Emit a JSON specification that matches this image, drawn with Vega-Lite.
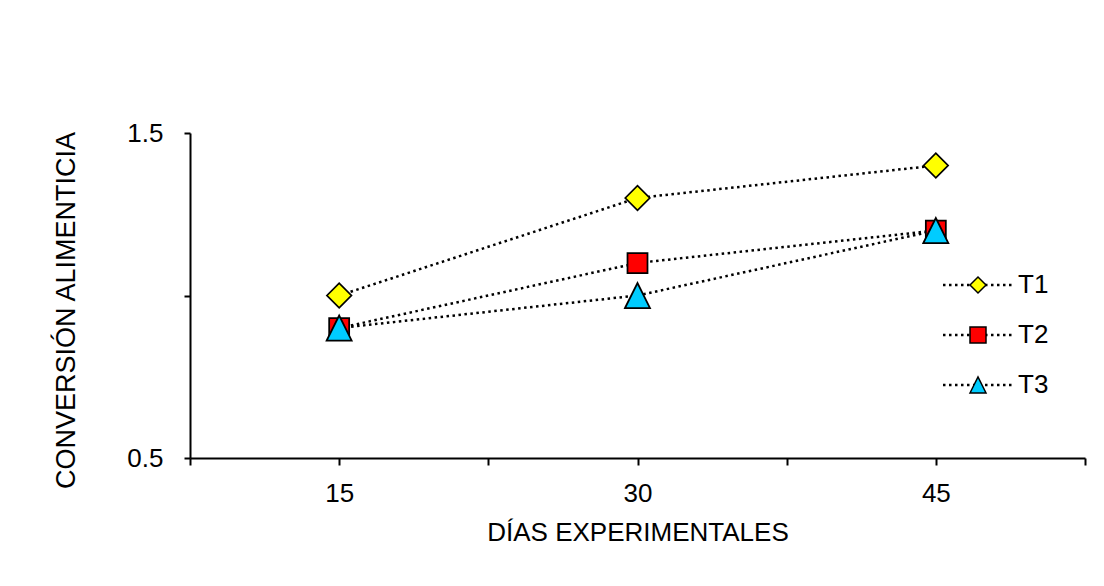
{
  "$schema": "https://vega.github.io/schema/vega-lite/v6.json",
  "width": 895,
  "height": 325,
  "autosize": {"type": "none"},
  "padding": {"left": 190, "top": 133, "right": 19, "bottom": 128},
  "background": "white",
  "config": {
    "font": "Liberation Sans",
    "view": {"stroke": null},
    "axis": {
      "domainColor": "#000000",
      "domainWidth": 2,
      "tickColor": "#000000",
      "tickWidth": 2,
      "labelColor": "#000000",
      "titleColor": "#000000",
      "labelFont": "Liberation Sans",
      "titleFont": "Liberation Sans",
      "labelFontSize": 26,
      "titleFontSize": 26,
      "titleFontWeight": "normal",
      "grid": false,
      "labelFlush": false,
      "labelOverlap": false,
      "labelBound": false
    },
    "legend": {
      "labelFont": "Liberation Sans",
      "labelFontSize": 26,
      "labelColor": "#000000",
      "padding": 0
    }
  },
  "data": {
    "values": [
      {"dias": 15, "conversion": 1.0, "tratamiento": "T1"},
      {"dias": 30, "conversion": 1.3, "tratamiento": "T1"},
      {"dias": 45, "conversion": 1.4, "tratamiento": "T1"},
      {"dias": 15, "conversion": 0.9, "tratamiento": "T2"},
      {"dias": 30, "conversion": 1.1, "tratamiento": "T2"},
      {"dias": 45, "conversion": 1.2, "tratamiento": "T2"},
      {"dias": 15, "conversion": 0.9, "tratamiento": "T3"},
      {"dias": 30, "conversion": 1.0, "tratamiento": "T3"},
      {"dias": 45, "conversion": 1.2, "tratamiento": "T3"}
    ]
  },
  "encoding": {
    "x": {
      "field": "dias",
      "type": "quantitative",
      "scale": {"domain": [7.5, 52.5], "nice": false, "zero": false},
      "axis": {
        "title": "DÍAS EXPERIMENTALES",
        "values": [7.5, 15, 22.5, 30, 37.5, 45, 52.5],
        "labelExpr": "datum.value % 15 === 0 ? datum.label : ''",
        "tickSize": 7,
        "labelPadding": 15,
        "titlePadding": 13
      }
    },
    "y": {
      "field": "conversion",
      "type": "quantitative",
      "scale": {"domain": [0.5, 1.5], "nice": false, "zero": false},
      "axis": {
        "title": "CONVERSIÓN ALIMENTICIA",
        "titleFontSize": 27,
        "values": [0.5, 1, 1.5],
        "format": ".1f",
        "labelExpr": "datum.value === 1 ? '' : datum.label",
        "tickSize": 6,
        "labelPadding": 21,
        "titleAngle": -90,
        "titleAlign": "center",
        "titleBaseline": "middle",
        "titleX": -124,
        "titleY": 177
      }
    }
  },
  "layer": [
    {
      "mark": {"type": "line", "strokeDash": [2.5, 3.5], "strokeWidth": 2.5, "strokeCap": "butt"},
      "encoding": {
        "stroke": {
          "field": "tratamiento",
          "type": "nominal",
          "scale": {"domain": ["T1", "T2", "T3"], "range": ["#000000", "#000000", "#000000"]},
          "legend": {
            "orient": "none",
            "legendX": 775,
            "legendY": 139,
            "title": null,
            "symbolType": "M-4.375,0H4.375",
            "symbolSize": 256,
            "symbolDash": [2.5, 3.5],
            "symbolStrokeWidth": 2.5,
            "symbolStrokeColor": "#000000",
            "labelOffset": 27,
            "labelOpacity": 0,
            "rowPadding": 24
          }
        }
      }
    },
    {
      "mark": {"type": "point", "filled": true, "opacity": 1, "stroke": "#000000", "strokeWidth": 1.75},
      "encoding": {
        "fill": {
          "field": "tratamiento",
          "type": "nominal",
          "scale": {"range": ["#FFFF00", "#FF0000", "#00CCFF"]},
          "legend": {
            "orient": "none",
            "legendX": 775,
            "legendY": 139,
            "title": null,
            "symbolSize": 256,
            "symbolStrokeColor": "#000000",
            "symbolStrokeWidth": 1.5,
            "symbolOpacity": 1,
            "labelOffset": 27,
            "rowPadding": 24,
            "encode": {
              "symbols": {
                "update": {
                  "stroke": {"value": "#000000"},
                  "strokeWidth": {"value": 1.5}
                }
              }
            }
          }
        },
        "shape": {
          "field": "tratamiento",
          "type": "nominal",
          "scale": {"range": ["diamond", "square", "M-1,1L0,-1L1,1Z"]},
          "legend": {
            "orient": "none",
            "legendX": 775,
            "legendY": 139,
            "title": null,
            "symbolSize": 256,
            "symbolStrokeColor": "#000000",
            "symbolStrokeWidth": 1.5,
            "symbolOpacity": 1,
            "labelOffset": 27,
            "rowPadding": 24,
            "encode": {
              "symbols": {
                "update": {
                  "stroke": {"value": "#000000"},
                  "strokeWidth": {"value": 1.5}
                }
              }
            }
          }
        },
        "size": {
          "field": "tratamiento",
          "type": "nominal",
          "scale": {"type": "ordinal", "domain": ["T3", "T2", "T1"], "range": [625, 400, 600]},
          "legend": null
        }
      }
    }
  ]
}
